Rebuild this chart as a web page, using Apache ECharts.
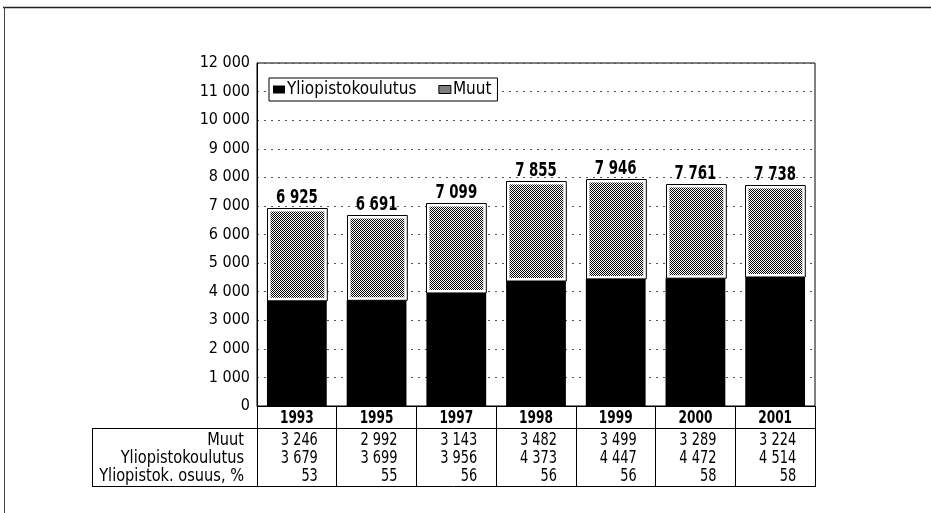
<!DOCTYPE html>
<html>
<head>
<meta charset="utf-8">
<script src="https://cdn.jsdelivr.net/npm/echarts@6/dist/echarts.min.js"></script>
<style>
  html, body { margin: 0; padding: 0; background: #fff; }
  #chart { width: 931px; height: 513px; }
</style>
</head>
<body>
<div id="chart"></div>
<script>
// data
const years = ['1993', '1995', '1997', '1998', '1999', '2000', '2001'];
const yliopisto = [3679, 3699, 3956, 4373, 4447, 4472, 4514];
const muut = [3246, 2992, 3143, 3482, 3499, 3289, 3224];
const totals = [6925, 6691, 7099, 7855, 7946, 7761, 7738];
const osuus = [53, 55, 56, 56, 56, 58, 58];
const rowLabels = ['Muut', 'Yliopistokoulutus', 'Yliopistok. osuus, %'];

const FONT = '"Liberation Sans Narrow", "Arial Narrow", "DejaVu Sans Condensed", sans-serif';

// thousands with a space: 12 000
const fmt = v => String(v).replace(/\B(?=(\d{3})+(?!\d))/g, ' ');

// dithered grey fill for "Muut"
const pc = document.createElement('canvas');
pc.width = 4; pc.height = 4;
const pctx = pc.getContext('2d');
pctx.fillStyle = '#fff';
pctx.fillRect(0, 0, 4, 4);
pctx.fillStyle = '#000';
for (let x = 0; x < 4; x++) {
  for (let y = 0; y < 4; y++) {
    if ((x + y) % 2 === 0) pctx.fillRect(x, y, 1, 1);
  }
}
const muutFill = { image: pc, repeat: 'repeat' };

const muutData = years.map((y, i) => [i, yliopisto[i], yliopisto[i] + muut[i], totals[i]]);

// Muut part: black frame, white gap, grey inside, total on top
function renderMuut(params, api) {
  const i = api.value(0);
  const lo = api.coord([i, api.value(1)]);
  const hi = api.coord([i, api.value(2)]);
  const w = api.size([1, 0])[0] * 0.75;
  const x = Math.round(lo[0] - w / 2) + 0.5;
  const y = Math.round(hi[1]) + 0.5;
  const h = lo[1] - y;
  return {
    type: 'group',
    children: [
      { type: 'rect', shape: { x: x, y: y, width: w, height: h },
        style: { fill: '#fff', stroke: '#000', lineWidth: 1 } },
      { type: 'rect', shape: { x: x + 3, y: y + 3, width: w - 6, height: h - 6 },
        style: { fill: muutFill } },
      { type: 'text', x: lo[0], y: y - 1, scaleX: 0.78,
        style: { text: fmt(api.value(3)), textAlign: 'center', textVerticalAlign: 'bottom',
                 font: 'bold 19px ' + FONT, fill: '#000' } }
    ]
  };
}

const myChart = echarts.init(document.getElementById('chart'), null, { renderer: 'canvas' });

const option = {
  animation: false,
  backgroundColor: '#fff',
  textStyle: { fontFamily: FONT },
  grid: {
    left: 257, right: 116, top: 63, bottom: 107,
    show: true, borderColor: '#000', borderWidth: 1
  },
  legend: {
    left: 269, top: 78,
    orient: 'horizontal',
    backgroundColor: '#fff',
    borderColor: '#000', borderWidth: 1,
    padding: [3, 6, 3, 4],
    itemGap: 22, itemWidth: 12, itemHeight: 8,
    textStyle: { fontSize: 17, color: '#000', fontFamily: FONT, padding: [0, 0, 0, -3] },
    data: [
      { name: 'Yliopistokoulutus', icon: 'rect' },
      { name: 'Muut', icon: 'rect', itemStyle: { color: muutFill, borderColor: '#000', borderWidth: 1 } }
    ]
  },
  xAxis: {
    type: 'category',
    data: years,
    axisLine: { lineStyle: { color: '#000', width: 1 } },
    axisTick: { show: true, inside: false, length: 81, lineStyle: { color: '#000' } },
    axisLabel: { show: false },
    splitLine: { show: false }
  },
  yAxis: {
    type: 'value',
    min: 0, max: 12000, interval: 1000,
    axisLine: { show: true, lineStyle: { color: '#000' } },
    axisTick: { show: false },
    axisLabel: { fontSize: 16, color: '#000', margin: 7, fontFamily: FONT, formatter: fmt },
    splitLine: { show: true, lineStyle: { color: '#555', width: 1, type: [2, 5] } }
  },
  series: [
    {
      name: 'Yliopistokoulutus',
      type: 'bar',
      barWidth: '75%',
      itemStyle: { color: '#000' },
      data: yliopisto
    },
    {
      name: 'Muut',
      type: 'custom',
      renderItem: renderMuut,
      itemStyle: { color: muutFill, borderColor: '#000', borderWidth: 1 },
      encode: { x: 0, y: [1, 2] },
      data: muutData
    }
  ]
};

myChart.setOption(option);

// data table below the axis, placed from the category axis
function drawTable() {
  const cx = years.map((y, i) => myChart.convertToPixel({ xAxisIndex: 0 }, i));
  const band = cx[1] - cx[0];
  const left = cx[0] - band / 2;
  const right = cx[cx.length - 1] + band / 2;
  const rowY = [440, 458, 476];
  const g = [];

  // frame lines of the table
  g.push({ type: 'line', shape: { x1: 92, y1: 428.5, x2: right, y2: 428.5 }, style: { stroke: '#000', lineWidth: 1 } });
  g.push({ type: 'line', shape: { x1: 92, y1: 486.5, x2: right, y2: 486.5 }, style: { stroke: '#000', lineWidth: 1 } });
  g.push({ type: 'line', shape: { x1: 92.5, y1: 428, x2: 92.5, y2: 487 }, style: { stroke: '#000', lineWidth: 1 } });

  // year header row
  years.forEach((t, i) => {
    g.push({ type: 'text', x: cx[i], y: 418, scaleX: 0.75,
      style: { text: t, textAlign: 'center', textVerticalAlign: 'middle', font: 'bold 18px ' + FONT, fill: '#000' } });
  });

  rowLabels.forEach((t, r) => {
    g.push({ type: 'text', x: left - 13, y: rowY[r], scaleX: 0.9,
      style: { text: t, textAlign: 'right', textVerticalAlign: 'middle', font: '18px ' + FONT, fill: '#000' } });
  });

  const rows = [muut, yliopisto, osuus];
  rows.forEach((arr, r) => {
    arr.forEach((v, i) => {
      g.push({ type: 'text', x: cx[i] + 21, y: rowY[r], scaleX: 0.8,
        style: { text: fmt(v), textAlign: 'right', textVerticalAlign: 'middle', font: '18px ' + FONT, fill: '#000' } });
    });
  });

  // outer page frame (top and left edge)
  g.push({ type: 'line', shape: { x1: 3, y1: 7.5, x2: 931, y2: 7.5 }, style: { stroke: '#222', lineWidth: 1.5 } });
  g.push({ type: 'line', shape: { x1: 4.5, y1: 7, x2: 4.5, y2: 513 }, style: { stroke: '#444', lineWidth: 1 } });

  myChart.setOption({ graphic: g });
}

drawTable();
</script>
</body>
</html>
